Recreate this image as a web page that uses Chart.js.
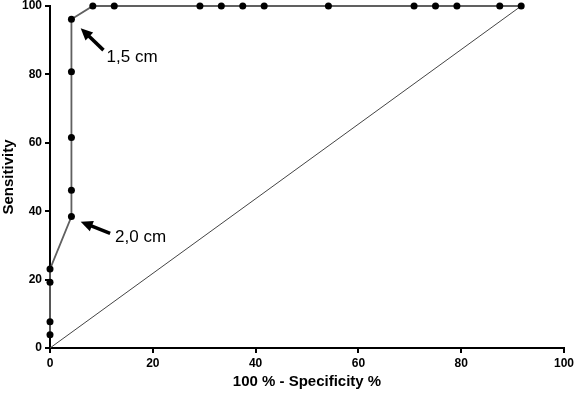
<!DOCTYPE html>
<html>
<head>
<meta charset="utf-8">
<script src="https://cdn.jsdelivr.net/npm/chart.js@4"></script>
<style>
  html, body { margin: 0; padding: 0; background: #fff; }
  #wrap { width: 578px; height: 393px; }
</style>
</head>
<body>
<div id="wrap"><canvas id="roc" width="578" height="393"></canvas></div>
<script>
// ROC curve: 100% - specificity vs sensitivity
const fpr  = [0, 0, 0, 0, 4.17, 4.17, 4.17, 4.17, 4.17, 8.33, 12.5, 29.17, 33.33, 37.5, 41.67, 54.17, 70.83, 75, 79.17, 87.5, 91.67];
const sens = [3.85, 7.69, 19.23, 23.08, 38.46, 46.15, 61.54, 80.77, 96.15, 100, 100, 100, 100, 100, 100, 100, 100, 100, 100, 100, 100];
const refX = [0, 91.67];
const refY = [0, 100];
const ticks = [0, 20, 40, 60, 80, 100];

// cut-off labels with arrows (data units: arrow tail, arrow head, label anchor)
const notes = [
  {text: "1,5 cm", tail: [10.4, 87.1], head: [5.97, 93.5], at: [11.0, 84.9]},
  {text: "2,0 cm", tail: [11.7, 33.5], head: [5.97, 36.9], at: [12.65, 32.5]},
];

const font = "'Liberation Sans', Arial, sans-serif";

const notePlugin = {
  id: "notes",
  afterDatasetsDraw(chart) {
    const {ctx, scales: {x, y}} = chart;
    ctx.save();
    notes.forEach(n => {
      const x1 = x.getPixelForValue(n.tail[0]), y1 = y.getPixelForValue(n.tail[1]);
      const x2 = x.getPixelForValue(n.head[0]), y2 = y.getPixelForValue(n.head[1]);
      const a = Math.atan2(y2 - y1, x2 - x1);
      const c = Math.cos(a), s = Math.sin(a);
      ctx.strokeStyle = "#000"; ctx.fillStyle = "#000"; ctx.lineWidth = 3.5;
      ctx.beginPath();
      ctx.moveTo(x1, y1);
      ctx.lineTo(x2 - 8 * c, y2 - 8 * s);
      ctx.stroke();
      ctx.beginPath();
      ctx.moveTo(x2, y2);
      ctx.lineTo(x2 - 12 * c + 5.5 * s, y2 - 12 * s - 5.5 * c);
      ctx.lineTo(x2 - 12 * c - 5.5 * s, y2 - 12 * s + 5.5 * c);
      ctx.closePath();
      ctx.fill();
      ctx.font = "17px " + font;
      ctx.textAlign = "left"; ctx.textBaseline = "middle";
      ctx.fillText(n.text, x.getPixelForValue(n.at[0]), y.getPixelForValue(n.at[1]));
    });
    ctx.restore();
  }
};

const axisOpts = (title, fit) => ({
  type: "linear", min: 0, max: 100,
  afterFit: fit,
  border: {color: "#000", width: 2},
  grid: {drawOnChartArea: false, color: "#000", lineWidth: 2, tickLength: 5},
  ticks: {
    stepSize: 20, color: "#000", padding: 3,
    font: {family: font, size: 12, weight: "bold"},
    callback: v => ticks.includes(v) ? String(v) : null,
  },
  title: {display: true, text: title, color: "#000", padding: {top: 0, bottom: 2},
          font: {family: font, size: 15, weight: "bold"}},
});

new Chart(document.getElementById("roc"), {
  type: "scatter",
  data: {
    datasets: [
      {data: fpr.map((v, i) => ({x: v, y: sens[i]})), showLine: true, clip: false,
       borderColor: "#606060", borderWidth: 1.8, pointRadius: 3.5, pointHoverRadius: 3.5,
       pointBackgroundColor: "#000", pointBorderColor: "#000", pointBorderWidth: 0},
      {data: refX.map((v, i) => ({x: v, y: refY[i]})), showLine: true, clip: false,
       borderColor: "#444", borderWidth: 1, pointRadius: 0},
    ],
  },
  options: {
    responsive: false, animation: false,
    layout: {padding: {top: 6, right: 14, left: 0, bottom: 0}},
    plugins: {legend: {display: false}, tooltip: {enabled: false}},
    scales: {
      x: axisOpts("100 % - Specificity %", s => { s.height = 45; }),
      y: axisOpts("Sensitivity", s => { s.width = 50; s.paddingTop = 0; s.paddingBottom = 0; }),
    },
  },
  plugins: [notePlugin],
});
</script>
</body>
</html>
